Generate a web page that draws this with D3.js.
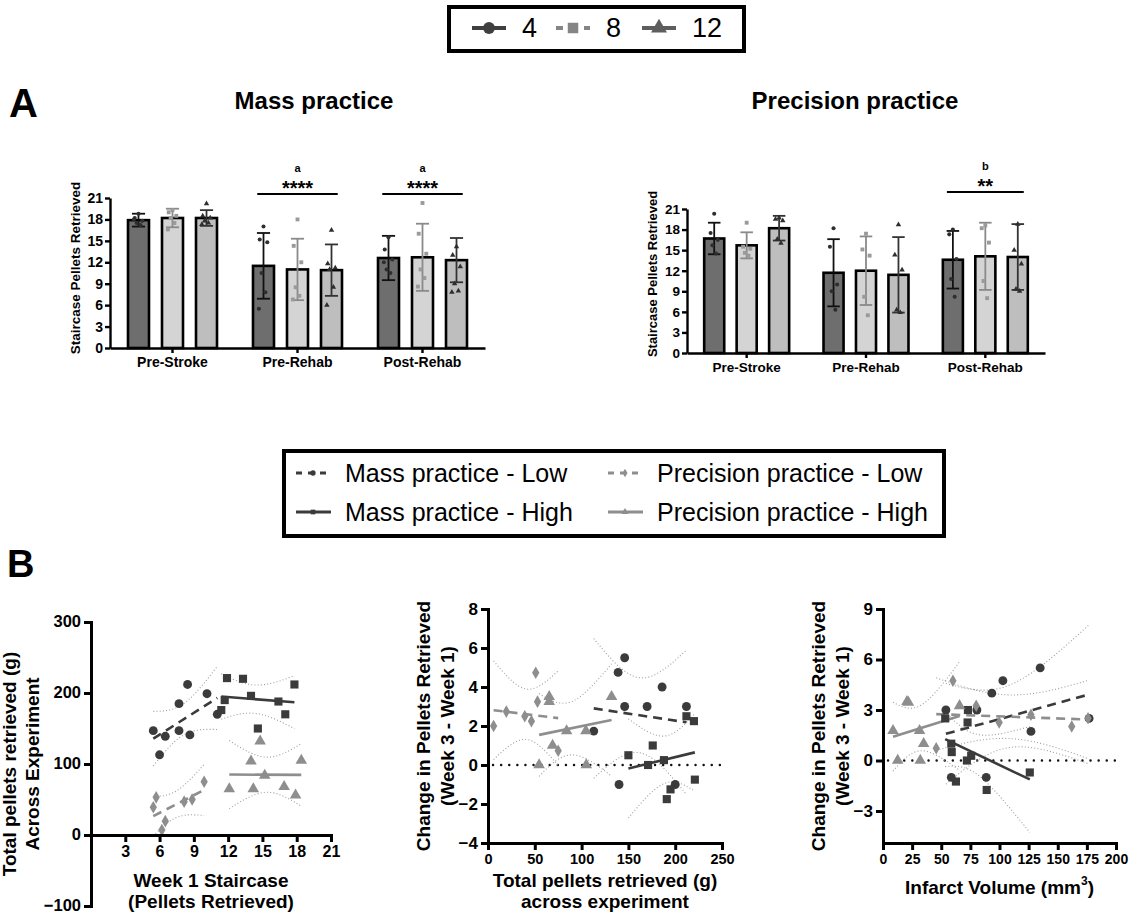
<!DOCTYPE html>
<html>
<head>
<meta charset="utf-8">
<script src="https://cdn.jsdelivr.net/npm/d3@7"></script>
<style>
  body { margin: 0; background: #fff; }
  svg { display: block; font-family: "Liberation Sans", Arial, Helvetica, sans-serif; }
</style>
</head>
<body>
<svg id="fig" width="1132" height="917"></svg>
<script>
// ---------- Panel A: staircase pellets by phase and week group ----------
const weekGroups = ["4", "8", "12"];
const phases = ["Pre-Stroke", "Pre-Rehab", "Post-Rehab"];

// [phase][week group]
const massMeans = [[17.9, 18.2, 18.2], [11.5, 11.0, 10.9], [12.6, 12.7, 12.3]];
const massSD    = [[0.9, 1.3, 1.1], [4.6, 4.3, 3.6], [3.1, 4.7, 3.1]];
const massPoints = [
  [[18.8, 18.2, 17.8, 17.5, 17.2, 18.0], [19.3, 19.0, 18.5, 18.2, 17.5, 16.6], [20.2, 18.5, 18.2, 17.8, 17.5, 17.3]],
  [[17.0, 15.2, 14.8, 10.5, 7.8, 5.5], [18.0, 14.3, 12.0, 8.5, 7.3, 6.8], [16.5, 11.8, 11.2, 11.0, 8.5, 6.0]],
  [[15.5, 13.8, 12.4, 11.0, 10.5, 12.0], [20.3, 16.0, 13.2, 11.0, 9.8, 8.6], [14.2, 13.0, 11.4, 9.0, 8.0, 7.8]]
];

const precMeans = [[16.7, 15.7, 18.2], [11.7, 12.0, 11.4], [13.6, 14.1, 14.0]];
const precSD    = [[2.3, 1.9, 1.8], [4.9, 5.0, 5.5], [4.2, 4.9, 4.8]];
const precPoints = [
  [[20.3, 17.5, 16.5, 15.7, 14.5], [19.0, 15.5, 15.2, 14.6, 14.2], [19.7, 19.5, 19.3, 16.6, 16.0]],
  [[18.2, 15.5, 10.0, 9.0, 6.3], [17.4, 15.1, 14.2, 8.2, 5.5], [18.7, 14.3, 12.1, 6.3, 5.9]],
  [[18.0, 17.3, 13.7, 10.8, 8.2], [18.6, 18.2, 16.1, 10.5, 8.0], [18.8, 15.0, 13.0, 9.3, 9.0]]
];

const barTicks = [0, 3, 6, 9, 12, 15, 18, 21];

// ---------- Panel B: correlations ----------
// Week 1 staircase vs total pellets retrieved
const b1MassLowX  = [5.45, 6.0, 6.5, 7.7, 7.7, 8.45, 8.65, 10.15, 11.05];
const b1MassLowY  = [147, 113, 139, 147, 185, 212, 141, 199, 170];
const b1MassHighX = [11.4, 11.7, 11.9, 13.3, 14.0, 14.6, 16.4, 17.0, 17.8];
const b1MassHighY = [176, 190, 221, 220, 196, 150, 188, 170, 212];
const b1PrecLowX  = [5.45, 5.7, 6.2, 6.5, 8.15, 8.85, 9.9];
const b1PrecLowY  = [39, 53, 7, 19.5, 47, 50, 75];
const b1PrecHighX = [12.1, 14.2, 14.0, 14.8, 15.2, 16.9, 17.9, 18.4];
const b1PrecHighY = [65, 65, 104, 132, 84, 68, 56, 105];

// Total pellets vs change in pellets (week 3 - week 1)
const b2MassLowX  = [113, 139, 140, 146, 146, 170, 186, 200, 212];
const b2MassLowY  = [1.74, 4.75, -1.0, 5.5, 3.0, 3.0, 4.0, -1.0, 3.0];
const b2MassHighX = [150, 171, 176, 188, 191, 195, 212, 220, 221];
const b2MassHighY = [0.5, 0, 1.0, 0.25, -1.75, -1.25, 2.5, 2.25, -0.75];
const b2PrecLowX  = [6, 19.6, 39.3, 46.4, 51, 52.9, 75];
const b2PrecLowY  = [2.0, 2.74, 2.5, 2.25, 4.73, 3.25, 0.73];
const b2PrecHighX = [54.6, 65.4, 65.4, 69, 84, 104.6, 105, 132];
const b2PrecHighY = [0, 3.5, 3.25, 1.0, 1.75, 1.75, 0, 3.5];

// Infarct volume vs change in pellets
const b3MassLowX  = [54, 58.6, 80.6, 88.6, 93.4, 102.9, 127, 134.9, 176.9];
const b3MassLowY  = [3.0, -1.0, 3.0, -1.0, 4.0, 4.74, 1.73, 5.5, 2.5];
const b3MassHighX = [53.4, 58.6, 59, 62.6, 72, 72.6, 72.9, 75.7, 89, 126];
const b3MassHighY = [2.5, 1.0, 0.5, -1.25, 0, 2.26, 3.0, 0.28, -1.75, -0.71];
const b3PrecLowX  = [45.7, 60, 80, 99.7, 127, 162, 176];
const b3PrecLowY  = [0.73, 4.74, 3.25, 2.26, 2.72, 2.02, 2.51];
const b3PrecHighX = [8.6, 12.6, 20.6, 21.8, 31.4, 32, 34.9, 65.7];
const b3PrecHighY = [1.77, 0, 3.5, 3.45, 1.77, 0, 1.0, 3.25];

const b1XTicks = [3, 6, 9, 12, 15, 18, 21];
const b1YTicks = [-100, 0, 100, 200, 300];
const b2XTicks = [0, 50, 100, 150, 200, 250];
const b2YTicks = [-4, -2, 0, 2, 4, 6, 8];
const b3XTicks = [0, 25, 50, 75, 100, 125, 150, 175, 200];
const b3YTicks = [-3, 0, 3, 6, 9];

const legendGroups = ["Mass practice - Low", "Precision practice - Low", "Mass practice - High", "Precision practice - High"];

// ---------- styling ----------
const barFill  = { "4": "#6e6e6e", "8": "#d4d4d4", "12": "#bebebe" };
const ptFill   = { "4": "#2e2e2e", "8": "#9a9a9a", "12": "#2e2e2e" };
const ptSize   = { "4": 13, "8": 15, "12": 13 };
const errColor = { "4": "#111111", "8": "#8a8a8a", "12": "#333333" };
const ptShape  = { "4": d3.symbolCircle, "8": d3.symbolSquare, "12": d3.symbolTriangle };
const MASS = "#3b3b3b", PREC = "#8e8e8e";
const tCrit = { 5: 2.571, 6: 2.447, 7: 2.365, 8: 2.306, 9: 2.262 };

const svg = d3.select("#fig");

// ---------- panel letters ----------
svg.append("text").attr("x", 9).attr("y", 117).attr("font-size", 40).attr("font-weight", "bold").text("A");
svg.append("text").attr("x", 7).attr("y", 577).attr("font-size", 38).attr("font-weight", "bold").text("B");

// ---------- top legend ----------
(function () {
  svg.append("rect").attr("x", 449).attr("y", 7).attr("width", 295).attr("height", 44)
    .attr("fill", "none").attr("stroke", "#000").attr("stroke-width", 4);
  const items = [
    { label: "4", color: "#3f3f3f", shape: d3.symbolCircle, dash: null, x: 472, size: 110 },
    { label: "8", color: "#858585", shape: d3.symbolSquare, dash: "7,7", x: 556, size: 110 },
    { label: "12", color: "#5e5e5e", shape: d3.symbolTriangle, dash: null, x: 642, size: 110 }
  ];
  items.forEach(it => {
    svg.append("line").attr("x1", it.x).attr("x2", it.x + 34).attr("y1", 28).attr("y2", 28)
      .attr("stroke", it.color).attr("stroke-width", 4).attr("stroke-dasharray", it.dash);
    svg.append("path").attr("d", d3.symbol(it.shape, it.size)())
      .attr("transform", `translate(${it.x + 17},28)`).attr("fill", it.color);
    svg.append("text").attr("x", it.x + 50).attr("y", 37).attr("font-size", 27).text(it.label);
  });
})();

// ---------- bar panels ----------
function barPanel(o) {
  const g = svg.append("g");
  const x = d3.scaleBand().domain(phases).range([o.x0, o.x1]);
  const y = d3.scaleLinear().domain([0, 21]).range([o.yb, o.yt]);
  const bw = x.bandwidth();
  const off = d3.scalePoint().domain(weekGroups).range([-0.272 * bw, 0.272 * bw]);
  const barW = 0.168 * bw;
  const capW = 0.105 * bw;
  const jitter = [0, -0.18, 0.18, -0.09, 0.09, -0.22, 0.22];

  g.append("text").attr("x", o.titleX).attr("y", 109).attr("text-anchor", "middle")
    .attr("font-size", 24).attr("font-weight", "bold").text(o.title);

  phases.forEach((ph, i) => {
    weekGroups.forEach((wk, j) => {
      const cx = x(ph) + bw / 2 + off(wk);
      const m = o.means[i][j], sd = o.sds[i][j];
      g.append("rect").attr("x", cx - barW / 2).attr("y", y(m))
        .attr("width", barW).attr("height", y(0) - y(m))
        .attr("fill", barFill[wk]).attr("stroke", "#000").attr("stroke-width", 2.6);
      const eg = g.append("g").attr("stroke", errColor[wk]).attr("stroke-width", 1.8);
      eg.append("line").attr("x1", cx).attr("x2", cx).attr("y1", y(m - sd)).attr("y2", y(m + sd));
      [m - sd, m + sd].forEach(v => eg.append("line").attr("x1", cx - capW / 2).attr("x2", cx + capW / 2)
        .attr("y1", y(v)).attr("y2", y(v)));
      o.points[i][j].forEach((v, k) => {
        g.append("path").attr("d", d3.symbol(ptShape[wk], ptSize[wk])())
          .attr("transform", `translate(${cx + jitter[k % jitter.length] * barW},${y(v)})`)
          .attr("fill", ptFill[wk]);
      });
    });
  });

  // significance brackets
  o.sig.forEach(s => {
    const c = x(s.phase) + bw / 2;
    g.append("line").attr("x1", c - 0.322 * bw).attr("x2", c + 0.322 * bw)
      .attr("y1", o.sigY).attr("y2", o.sigY).attr("stroke", "#000").attr("stroke-width", 2);
    g.append("text").attr("x", c).attr("y", o.sigY + 1).attr("text-anchor", "middle")
      .attr("font-size", 20).attr("font-weight", "bold").text(s.stars);
    g.append("text").attr("x", c).attr("y", o.sigY - 22).attr("text-anchor", "middle")
      .attr("font-size", 11).attr("font-weight", "bold").text(s.letter);
  });

  const yAxis = g.append("g").attr("transform", `translate(${o.x0},0)`)
    .call(d3.axisLeft(y).tickValues(barTicks).tickSize(5).tickSizeOuter(0).tickPadding(2));
  const xAxis = g.append("g").attr("transform", `translate(0,${o.yb})`)
    .call(d3.axisBottom(x).tickSize(5).tickSizeOuter(0).tickPadding(4));
  [yAxis, xAxis].forEach(a => {
    a.attr("font-family", null).attr("font-size", o.font).attr("font-weight", "bold");
    a.selectAll("path, line").attr("stroke", "#000").attr("stroke-width", 2.4);
    a.selectAll("text").attr("fill", "#000");
  });
  xAxis.selectAll("text").attr("dy", "0.71em");

  g.append("text").attr("transform", `translate(${o.ylabX},${o.ylabY}) rotate(-90)`)
    .attr("text-anchor", "middle").attr("dy", "0.35em")
    .attr("font-size", o.font - 0.5).attr("font-weight", "bold").text("Staircase Pellets Retrieved");
}

barPanel({
  x0: 110, x1: 485, yb: 348, yt: 198, font: 14,
  means: massMeans, sds: massSD, points: massPoints,
  title: "Mass practice", titleX: 314,
  sig: [{ phase: "Pre-Rehab", letter: "a", stars: "****" }, { phase: "Post-Rehab", letter: "a", stars: "****" }],
  sigY: 194, ylabX: 75, ylabY: 268
});
barPanel({
  x0: 687, x1: 1045, yb: 353, yt: 209, font: 13.5,
  means: precMeans, sds: precSD, points: precPoints,
  title: "Precision practice", titleX: 855,
  sig: [{ phase: "Post-Rehab", letter: "b", stars: "**" }],
  sigY: 192, ylabX: 652, ylabY: 274
});

// ---------- B legend ----------
const seriesStyle = {
  "Mass practice - Low":       { color: MASS, dash: "9,6", shape: d3.symbolCircle,   size: 62 },
  "Precision practice - Low":  { color: PREC, dash: "9,6", shape: d3.symbolDiamond,  size: 46 },
  "Mass practice - High":      { color: MASS, dash: null,  shape: d3.symbolSquare,   size: 66 },
  "Precision practice - High": { color: PREC, dash: null,  shape: d3.symbolTriangle, size: 58 }
};
(function () {
  svg.append("rect").attr("x", 284).attr("y", 451).attr("width", 660).attr("height", 85)
    .attr("fill", "none").attr("stroke", "#000").attr("stroke-width", 4);
  const cols = [296, 608], rows = [473, 512];
  legendGroups.forEach((name, i) => {
    const st = seriesStyle[name];
    const lx = cols[i % 2], ly = rows[Math.floor(i / 2)];
    svg.append("line").attr("x1", lx).attr("x2", lx + 35).attr("y1", ly).attr("y2", ly)
      .attr("stroke", st.color).attr("stroke-width", 3).attr("stroke-dasharray", st.dash ? "6,6" : null);
    svg.append("path").attr("d", d3.symbol(st.shape, 22)()).attr("transform", `translate(${lx + 17},${ly})`)
      .attr("fill", st.color);
    svg.append("text").attr("x", lx + 49).attr("y", ly + 9).attr("font-size", 25).text(name);
  });
})();

// ---------- regression helpers ----------
function fit(xs, ys) {
  const n = xs.length, mx = d3.mean(xs), my = d3.mean(ys);
  let sxx = 0, sxy = 0;
  xs.forEach((v, i) => { sxx += (v - mx) ** 2; sxy += (v - mx) * (ys[i] - my); });
  const b = sxy / sxx, a = my - b * mx;
  let sse = 0;
  xs.forEach((v, i) => { sse += (ys[i] - (a + b * v)) ** 2; });
  return { a, b, n, mx, sxx, s: Math.sqrt(sse / (n - 2)), t: tCrit[n - 2], x0: d3.min(xs), x1: d3.max(xs) };
}

function scatterPanel(p) {
  const g = svg.append("g");
  const x = d3.scaleLinear().domain(p.xDomain).range(p.xRange);
  const y = d3.scaleLinear().domain(p.yDomain).range(p.yRange);
  const clipId = "clip-" + p.name;
  svg.append("clipPath").attr("id", clipId).append("rect")
    .attr("x", p.xRange[0]).attr("y", p.yRange[1])
    .attr("width", p.xRange[1] - p.xRange[0]).attr("height", p.yRange[0] - p.yRange[1]);

  if (p.zeroLine) {
    g.append("line").attr("x1", x(p.xDomain[0]) + 5).attr("x2", x(p.xDomain[1]))
      .attr("y1", y(0)).attr("y2", y(0)).attr("stroke", "#111").attr("stroke-width", 2.4)
      .attr("stroke-linecap", "round").attr("stroke-dasharray", "0.1,8");
  }

  const fits = p.series.map(s => fit(s.x, s.y));
  const line = d3.line().x(d => x(d[0])).y(d => y(d[1]));

  // 95% confidence bands
  fits.forEach(f => {
    const xs = d3.range(0, 81).map(i => f.x0 + (f.x1 - f.x0) * i / 80);
    [1, -1].forEach(sg => {
      const pts = xs.map(v => [v, f.a + f.b * v + sg * f.t * f.s * Math.sqrt(1 / f.n + (v - f.mx) ** 2 / f.sxx)]);
      g.append("path").attr("d", line(pts)).attr("clip-path", `url(#${clipId})`)
        .attr("fill", "none").attr("stroke", "#9d9d9d").attr("stroke-width", 1.1)
        .attr("stroke-dasharray", "1,2.2");
    });
  });

  // fitted lines
  p.series.forEach((s, i) => {
    const f = fits[i], st = seriesStyle[s.name];
    g.append("path").attr("d", line([[f.x0, f.a + f.b * f.x0], [f.x1, f.a + f.b * f.x1]]))
      .attr("fill", "none").attr("stroke", st.color).attr("stroke-width", 2.6)
      .attr("stroke-dasharray", st.dash);
  });

  // observations
  p.series.forEach(s => {
    const st = seriesStyle[s.name];
    s.x.forEach((v, k) => {
      g.append("path").attr("d", d3.symbol(st.shape, st.size)())
        .attr("transform", `translate(${x(v)},${y(s.y[k])})`).attr("fill", st.color);
    });
  });

  const xAxis = g.append("g").attr("transform", `translate(0,${y(p.xAxisAt)})`)
    .call(d3.axisBottom(x).tickValues(p.xTicks).tickSize(7).tickSizeOuter(0).tickPadding(4));
  const yAxis = g.append("g").attr("transform", `translate(${x(p.xDomain[0])},0)`)
    .call(d3.axisLeft(y).tickValues(p.yTicks).tickSize(7).tickSizeOuter(0).tickPadding(3));
  [xAxis, yAxis].forEach(a => {
    a.attr("font-family", null).attr("font-weight", "bold");
    a.selectAll("path, line").attr("stroke", "#000").attr("stroke-width", 3);
    a.selectAll("text").attr("fill", "#000");
  });
  xAxis.attr("font-size", p.xTickFont);
  yAxis.attr("font-size", p.yTickFont);
  yAxis.selectAll("text").attr("dy", "0.3em");
  yAxis.select(".domain").attr("stroke-linecap", "square");
  xAxis.select(".domain").attr("stroke-linecap", "square");

  p.yLabels.forEach(l => {
    g.append("text").attr("transform", `translate(${l.x},${(p.yRange[0] + p.yRange[1]) / 2}) rotate(-90)`)
      .attr("text-anchor", "middle").attr("dy", "0.35em")
      .attr("font-size", 19).attr("font-weight", "bold").text(l.text);
  });
  const cx = (p.xRange[0] + p.xRange[1]) / 2;
  p.xLabels.forEach(l => {
    const t = g.append("text").attr("x", cx).attr("y", l.y).attr("text-anchor", "middle")
      .attr("font-size", 19).attr("font-weight", "bold").text(l.text);
    if (l.sup) {
      t.append("tspan").attr("font-size", 12).attr("dy", -9).text(l.sup);
      t.append("tspan").attr("dy", 9).text(")");
    }
  });
}

scatterPanel({
  name: "b1", xDomain: [0, 21], yDomain: [-100, 300], xRange: [91, 331], yRange: [906, 622],
  xTicks: b1XTicks, yTicks: b1YTicks, xAxisAt: 0, zeroLine: false, xTickFont: 16, yTickFont: 16.5,
  series: [
    { name: "Mass practice - Low", x: b1MassLowX, y: b1MassLowY },
    { name: "Mass practice - High", x: b1MassHighX, y: b1MassHighY },
    { name: "Precision practice - Low", x: b1PrecLowX, y: b1PrecLowY },
    { name: "Precision practice - High", x: b1PrecHighX, y: b1PrecHighY }
  ],
  yLabels: [{ x: 9, text: "Total pellets retrieved (g)" }, { x: 32, text: "Across Experiment" }],
  xLabels: [{ y: 887, text: "Week 1 Staircase" }, { y: 908, text: "(Pellets Retrieved)" }]
});

scatterPanel({
  name: "b2", xDomain: [0, 250], yDomain: [-4, 8], xRange: [488, 722], yRange: [843, 609],
  xTicks: b2XTicks, yTicks: b2YTicks, xAxisAt: -4, zeroLine: true, xTickFont: 14.5, yTickFont: 17,
  series: [
    { name: "Mass practice - Low", x: b2MassLowX, y: b2MassLowY },
    { name: "Mass practice - High", x: b2MassHighX, y: b2MassHighY },
    { name: "Precision practice - Low", x: b2PrecLowX, y: b2PrecLowY },
    { name: "Precision practice - High", x: b2PrecHighX, y: b2PrecHighY }
  ],
  yLabels: [{ x: 423, text: "Change in Pellets Retrieved" }, { x: 447, text: "(Week 3 - Week 1)" }],
  xLabels: [{ y: 887, text: "Total pellets retrieved (g)" }, { y: 908, text: "across experiment" }]
});

scatterPanel({
  name: "b3", xDomain: [0, 200], yDomain: [-4.9, 9], xRange: [883, 1116], yRange: [843, 609],
  xTicks: b3XTicks, yTicks: b3YTicks, xAxisAt: -4.9, zeroLine: true, xTickFont: 14, yTickFont: 17,
  series: [
    { name: "Mass practice - Low", x: b3MassLowX, y: b3MassLowY },
    { name: "Mass practice - High", x: b3MassHighX, y: b3MassHighY },
    { name: "Precision practice - Low", x: b3PrecLowX, y: b3PrecLowY },
    { name: "Precision practice - High", x: b3PrecHighX, y: b3PrecHighY }
  ],
  yLabels: [{ x: 818, text: "Change in Pellets Retrieved" }, { x: 842, text: "(Week 3 - Week 1)" }],
  xLabels: [{ y: 894, text: "Infarct Volume (mm", sup: "3" }]
});
</script>
</body>
</html>
